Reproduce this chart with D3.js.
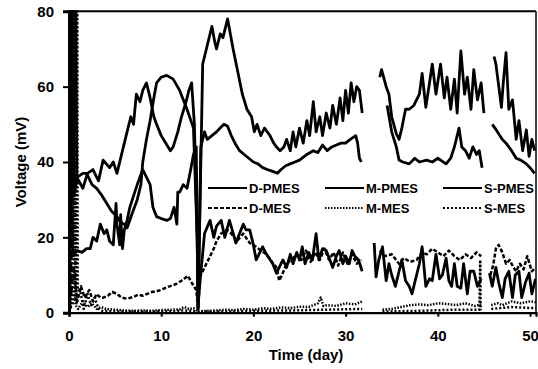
<!DOCTYPE html>
<html><head><meta charset="utf-8">
<script src="https://cdn.jsdelivr.net/npm/d3@7"></script>
<style>
body{margin:0;background:#fff;}
text{font-family:"Liberation Sans",Arial,sans-serif;font-weight:bold;fill:#000;}
</style></head>
<body><svg id="c" width="538" height="369"></svg>
<script>
// ---- data: [day, mV] pairs; null = gap ----
const seriesNames = ["D-PMES","M-PMES","S-PMES","D-MES","M-MES","S-MES"];
const xTicks = [0,10,20,30,40,50];
const yTicks = [0,20,40,60,80];

const dPMES = [[0,15],[0.2,80],[0.3,80],[0.4,15],[0.9,16.5],[1.4,16],[1.9,17],[2.3,17],[2.6,20],[3.0,19],[3.4,23.5],[3.8,21],[4.1,22],[4.4,19],[4.8,18],[5.1,29],[5.2,23.5],[5.5,18],[5.6,26],[5.8,17],[6.0,22],[6.3,24.5],[6.6,28],[7.0,31],[7.4,34],[7.7,36],[8.0,38],[8.4,36],[8.8,34],[9.1,28],[9.5,25.5],[10.0,25],[10.6,24.5],[11.0,25],[11.4,28],[11.7,23.5],[11.8,32],[12.0,32],[12.4,34],[12.8,33],[13.2,38],[13.5,42],[13.8,44],[14.0,2],[14.2,8],[14.7,21],[15.3,24.5],[15.7,20],[16.0,23],[16.5,24.5],[16.9,20],[17.4,24.5],[17.7,22],[18.1,18.5],[18.5,21],[18.9,23.5],[19.2,22],[19.6,22],[20.0,18],[20.3,14],[20.7,16],[21.0,17.5],[21.3,16],[21.7,14.5],[22.1,13],[22.5,10.5],[22.8,12],[23.2,14],[23.6,12],[24.0,15.5],[24.3,13],[24.7,16],[25.0,14],[25.3,17.5],[25.6,13],[26.0,16],[26.4,14],[26.8,21],[27.1,14],[27.5,17],[27.9,16.5],[28.3,14],[28.6,12],[29.0,15],[29.3,16.5],[29.7,13],[30.0,15],[30.4,13],[30.7,16.5],[31.0,15],[31.4,14],[31.8,11],[32.4,null],[33.1,18.5],[33.3,9.5],[33.6,14],[34.0,17.5],[34.4,8.5],[34.7,13],[35.0,10],[35.4,7],[35.8,11],[36.1,14],[36.5,8.5],[36.9,7],[37.2,5],[37.6,9],[38.0,13],[38.3,17.5],[38.7,7],[39.1,9],[39.4,8.5],[39.8,15.5],[40.2,9],[40.5,10],[40.9,14.5],[41.2,8.5],[41.5,7],[41.8,13],[42.1,7],[42.5,6.5],[42.8,13],[43.2,5],[43.5,11],[43.9,11],[44.3,7],[44.7,9],[45.1,null],[45.6,10.5],[45.9,7],[46.3,12],[46.6,8],[47.0,4],[47.3,9],[47.7,11],[48.1,4],[48.4,10],[48.8,11],[49.1,4],[49.5,8],[49.9,10.5],[50.2,5],[50.6,9]];

const mPMES = [[0,80],[0.45,80],[0.55,31],[0.9,36],[1.5,37],[1.9,37],[2.5,34],[3.0,33],[3.6,31],[4.1,29],[4.6,27],[5.2,25.5],[5.6,24],[6.0,23.5],[6.3,22.5],[6.8,26],[7.4,30],[7.8,34],[8.0,40],[8.4,46],[8.8,51],[9.2,57],[9.5,61],[10.0,62.5],[10.6,63],[11.3,62],[12.0,59],[12.8,54],[13.5,49],[13.9,20],[14.0,1],[14.3,44],[14.7,48],[15.0,46],[15.5,47],[16.0,48],[16.4,49],[16.8,50],[17.2,49.5],[17.6,47],[18.0,45],[18.5,43],[19.0,42],[19.5,41],[20.0,40],[20.5,39.5],[21.0,38.5],[21.5,38],[22.1,37.5],[22.6,37],[23.0,38],[23.5,39],[24.0,39.5],[24.5,40],[25.0,40.5],[25.8,42],[26.5,43],[27.0,42.5],[27.5,44.5],[28.0,43],[28.5,44],[29.0,44.5],[29.5,45],[30.0,45],[30.5,46],[31.1,47],[31.3,45],[31.5,41],[31.7,40],[32.3,null],[34.5,55],[35.0,48],[35.5,44],[35.8,40.5],[36.2,40],[36.9,39.5],[37.5,41],[38.0,40],[38.8,40.5],[39.4,40],[40.0,41],[40.9,39.5],[41.4,41],[41.8,44],[42.3,49],[42.6,44],[43.0,43],[43.4,41],[43.8,44],[44.2,42],[44.5,43],[44.8,38.5],[45.2,null],[45.9,50],[46.2,49],[46.6,47.5],[47.0,46],[47.4,45],[48.0,43],[48.5,41],[49.0,40.5],[49.6,39.5],[50.0,38.5],[50.5,37]];

const sPMES = [[0,30],[0.05,80],[0.75,80],[0.85,36],[1.5,33],[2.0,37],[2.6,38],[3.2,35],[3.7,40.5],[4.4,38.5],[4.8,40],[5.2,37],[5.9,44],[6.3,48],[6.7,52],[7.0,50],[7.3,58],[7.7,56],[8.0,59],[8.4,61],[8.8,57],[9.2,52],[9.5,50],[10.0,47],[10.5,45],[11.0,43],[11.3,44],[11.8,48],[12.2,52],[12.7,56],[13.0,59],[13.3,61],[13.6,50],[13.9,20],[14.0,1],[14.3,40],[14.5,66],[14.9,70],[15.2,73],[15.5,76],[15.8,72],[16.0,70],[16.4,74],[16.7,73],[17.0,76],[17.2,78],[17.5,74],[17.8,70],[18.3,64],[18.8,58],[19.3,54],[19.8,52],[20.1,48],[20.4,50],[20.8,47],[21.2,49],[21.8,47],[22.2,45],[22.5,44],[22.9,43],[23.3,44],[23.6,46],[24.0,43],[24.3,48],[24.6,44],[25.0,49],[25.4,45],[25.8,51],[26.1,47],[26.5,56],[26.8,48],[27.2,52],[27.5,47],[27.9,53],[28.3,49],[28.6,55],[29.0,50],[29.4,57],[29.7,51],[30.0,59],[30.3,53],[30.6,61],[30.9,56],[31.2,60],[31.5,59],[31.8,53],[32.5,null],[33.7,62.5],[33.9,64.5],[34.4,60],[34.7,58],[35.0,52],[35.5,47.5],[35.8,46],[36.1,49],[36.5,54],[36.9,54],[37.4,55],[38.0,58],[38.3,63.5],[38.7,54.5],[39.1,61],[39.4,66],[39.8,58],[40.3,66],[40.7,57],[41.0,62.5],[41.4,54],[41.8,62],[42.1,53],[42.5,69.5],[42.9,58],[43.2,62.5],[43.6,54],[43.9,64.5],[44.3,56.5],[44.7,61],[45.0,53],[45.4,null],[46.1,68],[46.3,66],[46.9,54.5],[47.1,61],[47.4,69],[47.7,54],[48.1,56.5],[48.5,46],[48.8,51],[49.2,43],[49.6,48.5],[49.9,41.5],[50.2,46],[50.5,43]];

const dMES = [[0,0],[0.1,80],[0.25,5],[0.5,12],[0.9,3],[1.3,7],[1.7,4],[2.2,6],[2.6,3],[3.0,5],[3.4,4],[3.7,4],[4.2,4.5],[4.7,5.5],[5.2,5],[5.7,4],[6.3,3.7],[7.0,4.2],[7.5,4.8],[8.0,4.5],[8.5,5],[9.0,5.5],[9.5,5.7],[9.9,6],[10.4,6.5],[10.9,7],[11.3,7.3],[11.7,7.7],[12.2,8.5],[12.6,9.2],[12.9,9.8],[13.3,8],[13.8,6],[14.0,1],[14.2,9.5],[14.7,12],[15.3,15],[15.7,17],[16.0,19],[16.5,21],[17.1,22],[17.6,21],[18.2,19],[18.9,21],[19.6,18.5],[20.3,17.5],[20.8,16.5],[21.4,15.5],[22.0,13.5],[22.5,12],[22.8,8.5],[23.1,10],[23.6,13],[24.1,14],[24.7,15.5],[25.2,14],[25.7,16.5],[26.2,13.5],[26.7,16],[27.2,14],[27.7,17],[28.2,14],[28.7,16],[29.2,12.5],[29.7,16],[30.2,13],[30.7,15.5],[31.2,13],[31.7,14],[32.3,null],[33.7,16.5],[34.2,15],[35.0,15.5],[35.8,13],[36.3,14.5],[37.0,13.5],[37.7,14],[38.3,16],[38.8,15.5],[39.4,17],[40.0,16],[40.6,15],[41.2,16.5],[41.8,15],[42.4,14],[43.0,15.5],[43.6,14.5],[44.2,16],[44.7,15],[45.2,null],[45.7,10],[46.0,12.5],[46.3,17],[46.6,18],[47.0,16],[47.4,13],[47.8,14],[48.2,12],[48.5,11],[48.9,13],[49.3,11.5],[49.7,15],[50.2,11],[50.6,12]];

const mMES = [[0,80],[0.6,80],[0.7,2],[1.0,1],[1.5,3],[2.0,1.5],[2.5,2.5],[3.0,1],[3.5,1.5],[4,1],[5,0.8],[6,0.6],[7,0.5],[8,0.6],[9,0.5],[10,0.7],[11,0.8],[12,0.9],[12.5,1.5],[13,1.0],[13.5,1.2],[14,0.3],[15,0.5],[16,0.6],[17,0.8],[18,0.7],[19,1],[20,0.8],[21,1.2],[22,1],[23,1.4],[24,1.2],[25,1.6],[26,1.5],[27,2.5],[27.3,4],[27.6,1.8],[28,2],[29,1.8],[30,2.5],[31,2.2],[31.8,3],[32.5,null],[34,0.8],[35,1],[36,1.5],[37,2],[38,2.2],[39,2],[40,2.5],[41,2.3],[42,2],[43,2.5],[44,1.8],[44.7,2.2],[45.2,null],[45.8,2],[46.5,2.5],[47,2],[48,3],[49,2.5],[50,3],[50.6,2.8]];

const sMES = [[0,2],[0.1,80],[0.2,1],[0.3,80],[0.4,2],[0.5,80],[0.6,3],[0.7,80],[0.8,2],[0.9,80],[0.95,6],[1.2,6],[1.6,1],[2.0,5],[2.4,2],[2.8,4],[3.2,1],[3.6,0.5],[5,0.3],[8,0.3],[11,0.4],[12.5,0.6],[14,0.3],[17,0.3],[20,0.5],[24,0.6],[28,0.8],[31.8,1],[32.5,null],[34,0.3],[38,0.5],[42,0.8],[44.5,0.8],[44.6,14],[44.65,1],[44.7,0.6],[45.2,null],[45.8,1],[48,1.5],[50.6,1.2]];

const seriesData = [dPMES, mPMES, sPMES, dMES, mMES, sMES];
const seriesDash = [null, null, null, "4,2", "1.5,1.5", "2,2"];
const seriesWidth = [2.8, 2.8, 2.8, 2.5, 2.5, 2.5];

// ---- chart ----
const svg = d3.select("#c");
const L = 69, R = 536, T = 11.3, B = 312.7;
const x = d3.scaleLinear().domain([0, 50.65]).range([L, R]);
const y = d3.scaleLinear().domain([0, 80]).range([B, T]);

svg.append("defs").append("clipPath").attr("id","clip")
  .append("rect").attr("x",L).attr("y",T-1).attr("width",R-L).attr("height",B-T+2);

const line = d3.line().defined(d => d[1] != null).x(d => x(d[0])).y(d => y(d[1]));
const g = svg.append("g").attr("clip-path","url(#clip)");
seriesData.forEach((s,i) => {
  g.append("path").datum(s).attr("d", line)
    .attr("fill","none").attr("stroke","#000")
    .attr("stroke-width", seriesWidth[i])
    .attr("stroke-linejoin","round")
    .attr("stroke-dasharray", seriesDash[i]);
});

// frame
svg.append("line").attr("x1",L).attr("x2",R).attr("y1",T).attr("y2",T).attr("stroke","#000").attr("stroke-width",2);
svg.append("line").attr("x1",R).attr("x2",R).attr("y1",T).attr("y2",B).attr("stroke","#000").attr("stroke-width",1.5);

const xa = svg.append("g").attr("transform",`translate(0,${B})`)
  .call(d3.axisBottom(x).tickValues(xTicks).tickFormat(d3.format("d")).tickSize(4).tickPadding(13.5));
const ya = svg.append("g").attr("transform",`translate(${L},0)`)
  .call(d3.axisLeft(y).tickValues(yTicks).tickFormat(d3.format("d")).tickSize(6).tickPadding(9));
[xa, ya].forEach(a => {
  a.select(".domain").attr("stroke","#000").attr("stroke-width",2.2);
  a.selectAll(".tick line").attr("stroke","#000").attr("stroke-width",2);
  a.selectAll(".tick text").style("font-size","15px").style("font-family","'Liberation Sans',Arial,sans-serif").style("font-weight","bold").attr("fill","#000");
});
ya.select(".domain").attr("stroke-width",3);

svg.append("text").attr("x",306).attr("y",360).attr("text-anchor","middle").style("font-size","15px").text("Time (day)");
svg.append("text").attr("transform","translate(26,162) rotate(-90)").attr("text-anchor","middle").style("font-size","15px").text("Voltage (mV)");

// legend
const legX = [208, 325, 443], legY = [188, 208];
seriesNames.forEach((n,i) => {
  const col = i % 3, row = Math.floor(i / 3);
  const lx = legX[col], ly = legY[row];
  svg.append("line").attr("x1",lx).attr("x2",lx+39).attr("y1",ly).attr("y2",ly)
    .attr("stroke","#000").attr("stroke-width",2.2).attr("stroke-dasharray",seriesDash[i]);
  svg.append("text").attr("x",lx+41).attr("y",ly+5).style("font-size","13px").text(n);
});
</script></body></html>
